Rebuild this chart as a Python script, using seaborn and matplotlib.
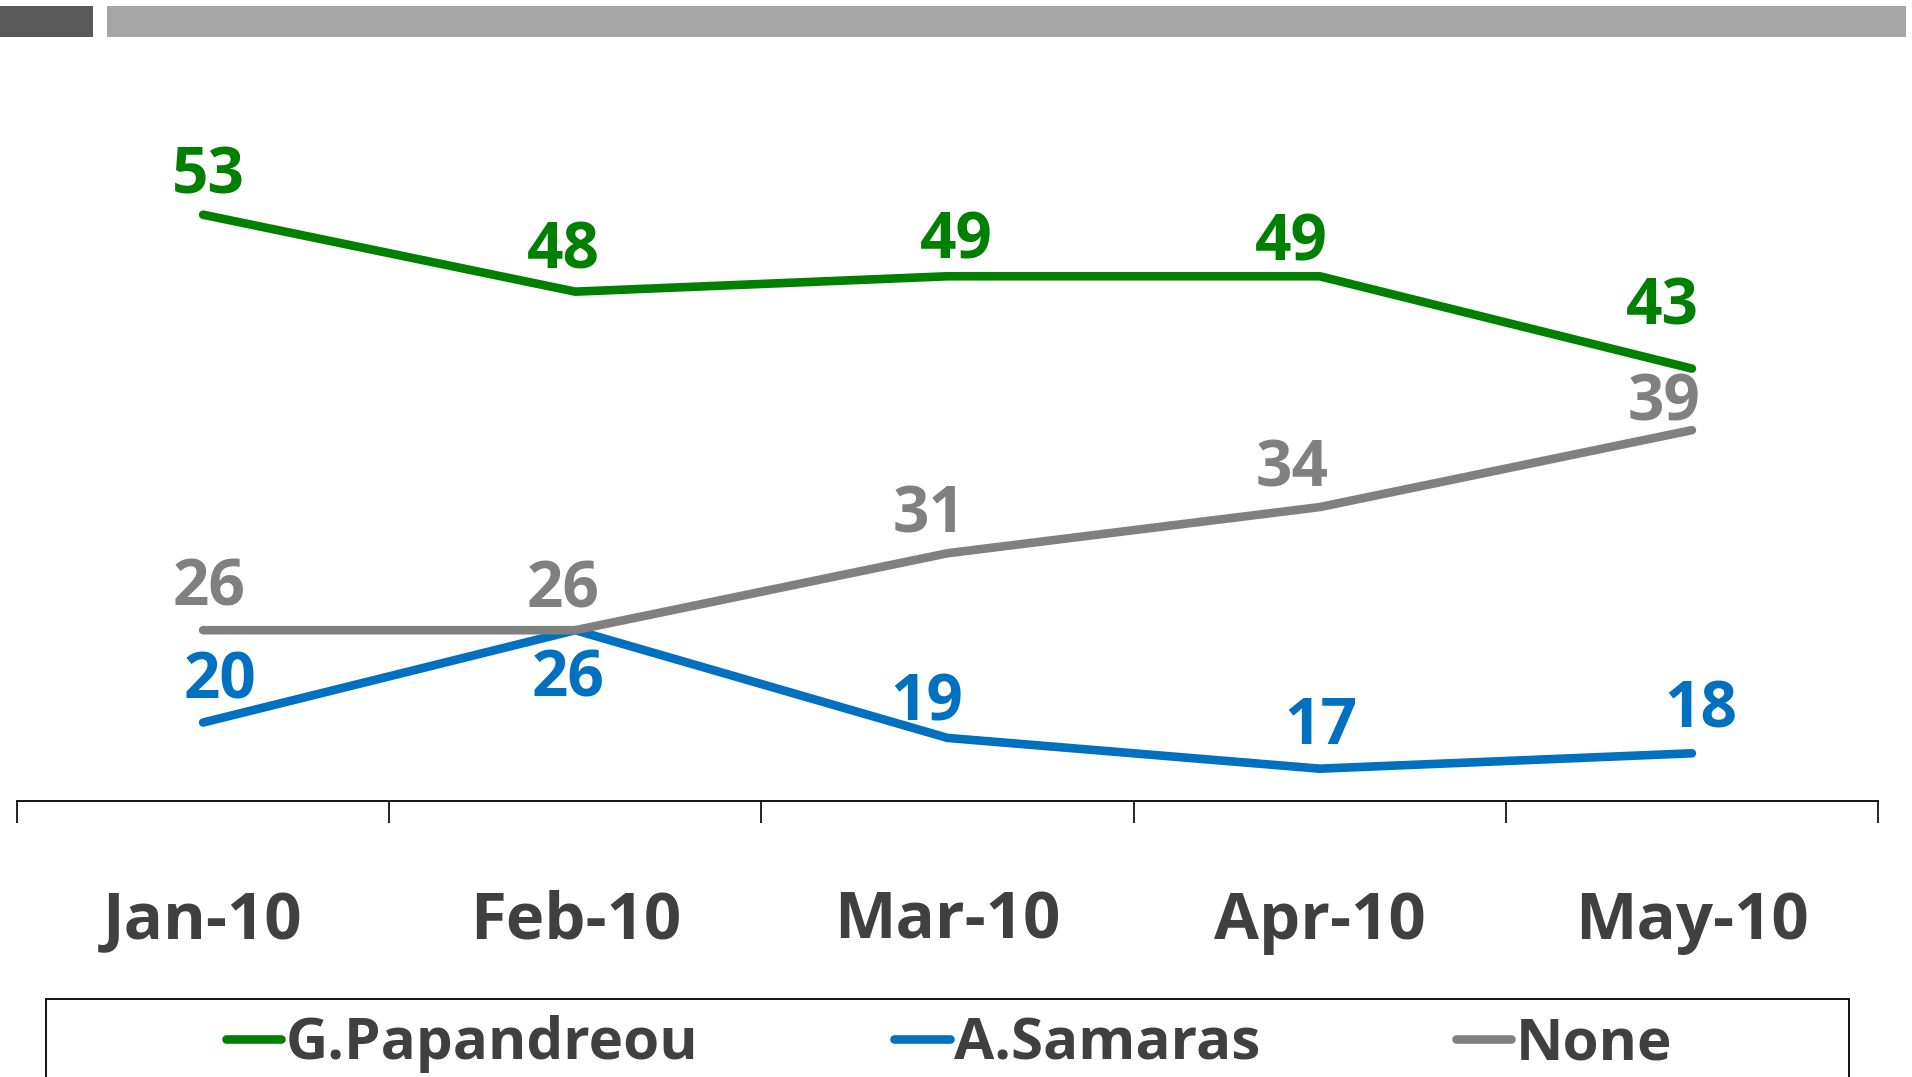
import matplotlib
matplotlib.use("Agg")
import matplotlib.pyplot as plt
from matplotlib.patches import Rectangle
from matplotlib.lines import Line2D
import seaborn as sns
import pandas as pd

# ---- data ----
months = ["Jan-10", "Feb-10", "Mar-10", "Apr-10", "May-10"]
series_names = ["G.Papandreou", "A.Samaras", "None"]
papandreou = [53, 48, 49, 49, 43]
samaras = [20, 26, 19, 17, 18]
none_vals = [26, 26, 31, 34, 39]

colors = {"G.Papandreou": "#008000", "A.Samaras": "#0070C0", "None": "#808080"}
text_color = "#404040"

# label offsets (points) for data labels: (dx, dy of visual centre)
label_offsets = {
    "G.Papandreou": [(3.5, 31.6), (-8.8, 33.4), (6.1, 29.0), (-20.2, 28.1), (-21.0, 48.3)],
    "A.Samaras": [(12.3, 33.4), (-5.3, -31.6), (-14.9, 29.0), (0.9, 34.2), (6.1, 35.1)],
    "None": [(4.4, 34.2), (-8.8, 32.5), (-13.2, 31.6), (-20.2, 31.6), (-20.2, 23.7)],
}

values = {"G.Papandreou": papandreou, "A.Samaras": samaras, "None": none_vals}
df = pd.DataFrame(
    [(m, s, v) for s in series_names for m, v in zip(months, values[s])],
    columns=["month", "series", "value"],
)
df["pos"] = df["month"].map({m: i for i, m in enumerate(months)})

sns.set_theme(style="white")
plt.rcParams["font.family"] = ["Open Sans", "DejaVu Sans"]
plt.rcParams["font.weight"] = "bold"

W, H = 1912, 1077
fig = plt.figure(figsize=(W / 100, H / 100), dpi=100)
fig.patch.set_facecolor("white")

ax_left, ax_right = 17, 1878
ax_bottom, ax_top = 801, 107
ax = fig.add_axes([ax_left / W, 1 - ax_bottom / H, (ax_right - ax_left) / W, (ax_bottom - ax_top) / H])
ax.set_facecolor("white")

sns.lineplot(
    data=df, x="pos", y="value", hue="series", hue_order=series_names,
    palette=colors, linewidth=6.2, legend=False, ax=ax, sort=False,
    estimator=None,
)
for ln in ax.get_lines():
    ln.set_solid_capstyle("round")
    ln.set_solid_joinstyle("miter")

ax.set_xlim(-0.5, len(months) - 0.5)
ax.set_ylim(14.9, 60)

# data labels
lab_fs = 46
cap_half = 0.714 * lab_fs / 2
for s in series_names:
    for i, v in enumerate(values[s]):
        dx, dy = label_offsets[s][i]
        ax.annotate(str(v), (i, v), xytext=(dx, dy - cap_half), textcoords="offset points",
                    ha="center", va="baseline", fontsize=lab_fs, fontweight="bold",
                    color=colors[s])

# axes styling
for sp in ["top", "left", "right"]:
    ax.spines[sp].set_visible(False)
ax.spines["bottom"].set_color("black")
ax.spines["bottom"].set_linewidth(1.3)
ax.set_yticks([])
ax.set_xlabel("")
ax.set_ylabel("")
ax.set_xticks(range(len(months)))
ax.set_xticklabels(months, fontsize=47, fontweight="bold", color=text_color)
ax.tick_params(axis="x", which="major", length=0, pad=64)
ax.set_xticks([i - 0.5 for i in range(len(months) + 1)], minor=True)
ax.tick_params(axis="x", which="minor", length=16, width=1.2, color="black", direction="out", bottom=True)

# top decoration bars
fig.patches.append(Rectangle((0, 1 - 37 / H), 93 / W, 31 / H, transform=fig.transFigure,
                             facecolor="#595959", edgecolor="none"))
fig.patches.append(Rectangle((107 / W, 1 - 37 / H), (1906 - 107) / W, 31 / H, transform=fig.transFigure,
                             facecolor="#A6A6A6", edgecolor="none"))

# legend box
fig.patches.append(Rectangle((46 / W, -0.05), (1849 - 46) / W, 1 - 999 / H + 0.05,
                             transform=fig.transFigure, facecolor="none", edgecolor="black",
                             linewidth=1.3))
handles = [Line2D([0], [0], color=colors[s], linewidth=6.2, solid_capstyle="round") for s in series_names]
leg = fig.legend(handles, series_names, loc="center", bbox_to_anchor=(0.4965, 1 - 1044 / H),
                 ncol=3, frameon=False, handlelength=0.95, handletextpad=0.08,
                 columnspacing=3.35, prop={"size": 42, "weight": "bold"}, borderaxespad=0)
for t in leg.get_texts():
    t.set_color(text_color)

fig.savefig("out.png", dpi=100, facecolor="white")
